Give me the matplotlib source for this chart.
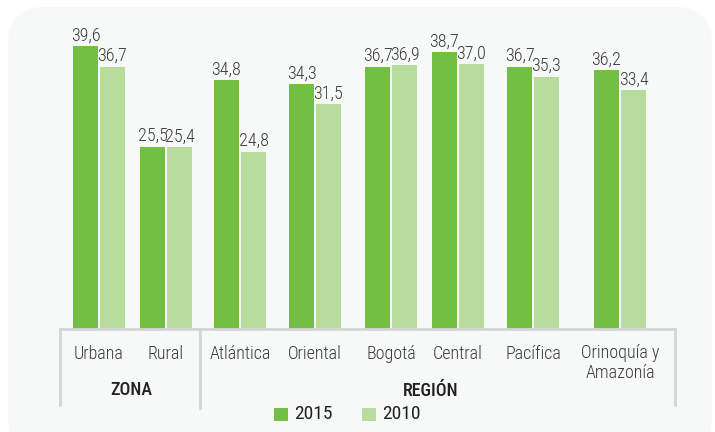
import matplotlib
matplotlib.use("Agg")
import matplotlib.pyplot as plt
from matplotlib.patches import FancyBboxPatch, Rectangle
from matplotlib import font_manager

categories = ["Urbana", "Rural", "Atlántica", "Oriental", "Bogotá", "Central", "Pacífica", "Orinoquía y\nAmazonía"]
values_2015 = [39.6, 25.5, 34.8, 34.3, 36.7, 38.7, 36.7, 36.2]
values_2010 = [36.7, 25.4, 24.8, 31.5, 36.9, 37.0, 35.3, 33.4]
series_names = ["2015", "2010"]
groups = ["ZONA", "REGIÓN"]

# layout (pixel-based)
W, H = 715, 432
centers = [99, 166, 240, 315, 391, 458, 533, 620]
bw = 25
off = 13.5
c2015 = "#72bf44"
c2010 = "#b8dc9c"
txt = "#3a3a3a"
linec = "#d4d6d6"

fonts = font_manager.fontManager.ttflist
names = {f.name for f in fonts}
fam = None
stretch = "normal"
for cand in ["Roboto Condensed", "Open Sans Condensed", "Liberation Sans Narrow", "Noto Sans Condensed",
             "DejaVu Sans Condensed"]:
    if cand in names:
        fam = cand
        break
if fam is None:
    cond = [f for f in fonts if f.name in ("Noto Sans", "Open Sans", "Roboto", "DejaVu Sans")
            and f.stretch in ("condensed", "semi-condensed", "extra-condensed")]
    if cond:
        fam = cond[0].name
        stretch = cond[0].stretch
    else:
        fam = "DejaVu Sans"
plt.rcParams["font.family"] = [fam, "DejaVu Sans"]
plt.rcParams["font.stretch"] = stretch

fig = plt.figure(figsize=(W / 100, H / 100), dpi=100)
fig.patch.set_facecolor("white")
bg = FancyBboxPatch((8 / W, -0.05), (704 / W), (H - 7) / H + 0.05,
                    boxstyle="round,pad=0,rounding_size=0.05",
                    transform=fig.transFigure, facecolor="#f7f8f8", edgecolor="none",
                    mutation_aspect=W / H, zorder=-5)
fig.patches.append(bg)

base_px = 329
top_px = 20
ppu = 7.15
ax = fig.add_axes([0, (H - base_px) / H, 1, (base_px - top_px) / H])
ax.set_xlim(0, W)
ax.set_ylim(0, (base_px - top_px) / ppu)
ax.axis("off")
ax.set_zorder(1)

for i, c in enumerate(centers):
    for v, dx, col in ((values_2015[i], -off, c2015), (values_2010[i], off, c2010)):
        ax.bar(c + dx, v, width=bw, color=col, zorder=2)
        ax.text(c + dx, v + 0.2, f"{v:.1f}".replace(".", ","), ha="center", va="bottom",
                fontsize=13, color=txt, fontweight="light", zorder=3)

def fx(x):
    return x / W
def fy(y):
    return 1 - y / H

fig.add_artist(plt.Line2D([fx(60), fx(675)], [fy(329), fy(329)], color=linec, lw=2, transform=fig.transFigure))
for x, yb in ((60, 405), (200, 408), (675, 405)):
    fig.add_artist(plt.Line2D([fx(x), fx(x)], [fy(329), fy(yb)], color=linec, lw=2, transform=fig.transFigure))

for c, lab in zip(centers, categories):
    if "\n" in lab:
        fig.text(fx(c), fy(344), lab, ha="center", va="top", fontsize=13, color=txt,
                 fontweight="light", linespacing=1.15)
    else:
        fig.text(fx(c), fy(354), lab, ha="center", va="center", fontsize=13, color=txt, fontweight="light")

fig.text(fx(131), fy(390), groups[0], ha="center", va="center", fontsize=13, color="#222222", fontweight="medium")
fig.text(fx(431), fy(391), groups[1], ha="center", va="center", fontsize=13, color="#222222", fontweight="medium")

for x0, col, name in ((274, c2015, series_names[0]), (362, c2010, series_names[1])):
    fig.add_artist(Rectangle((fx(x0), fy(421)), 14 / W, 13 / H, transform=fig.transFigure,
                             facecolor=col, edgecolor="none"))
    fig.text(fx(x0 + 20), fy(414), name, ha="left", va="center", fontsize=14, color="#222222")

fig.savefig("out.png", dpi=100, facecolor="white")
